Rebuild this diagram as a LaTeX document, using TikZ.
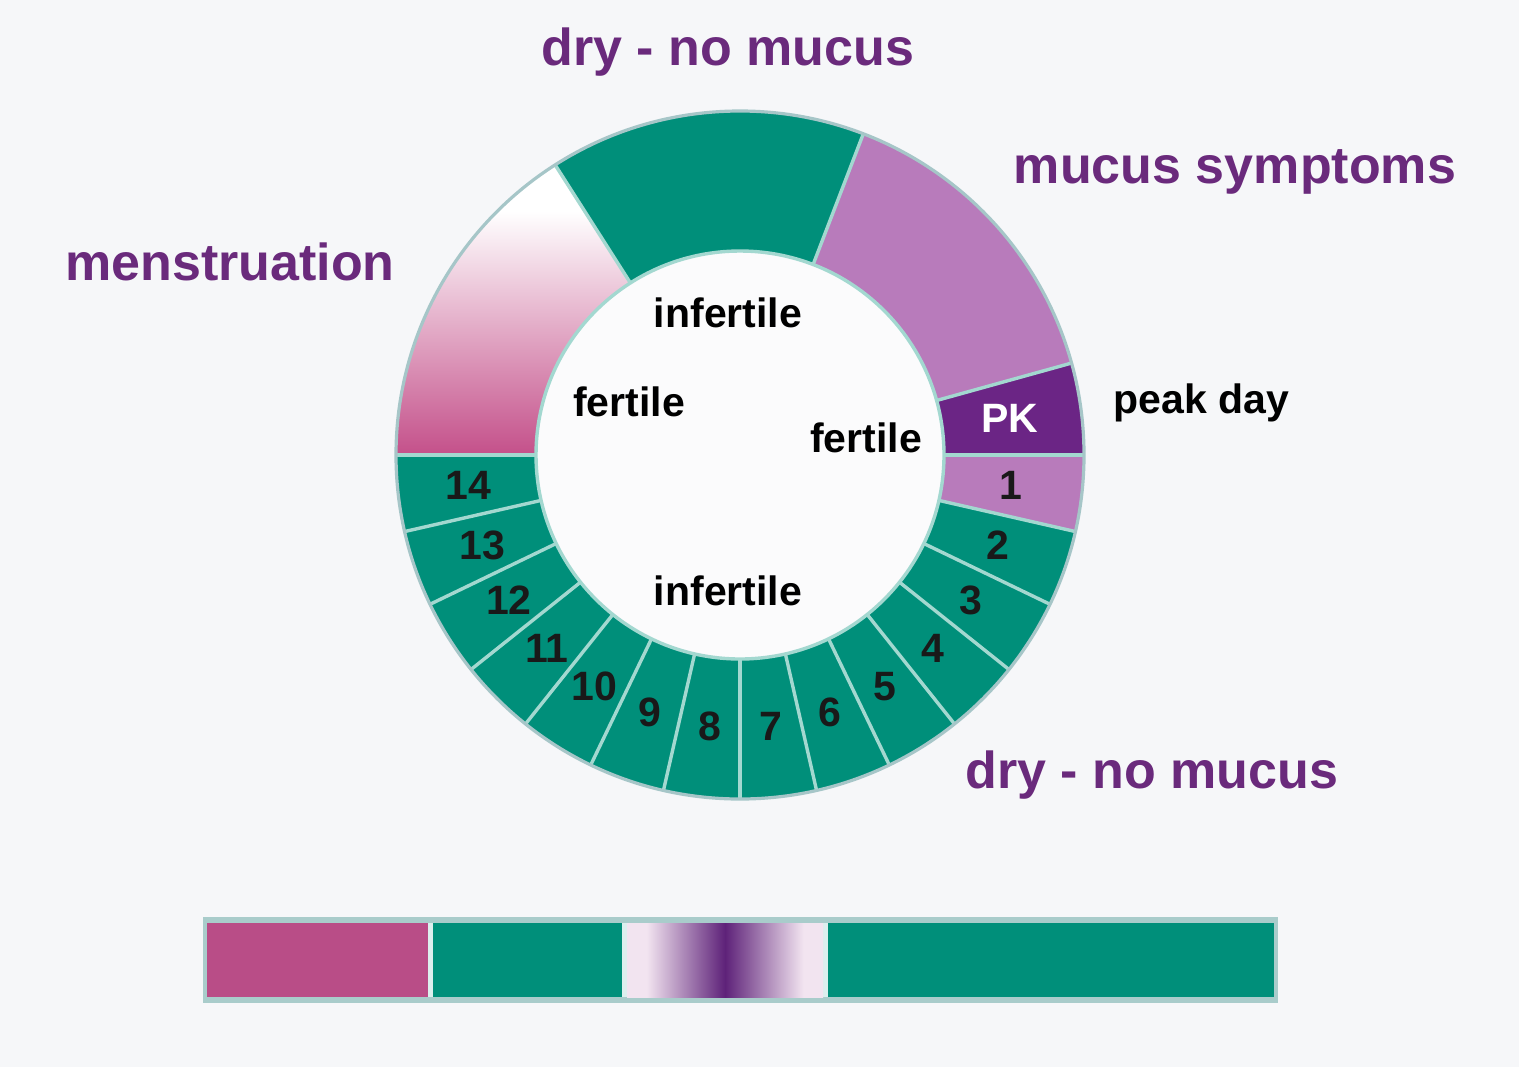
\documentclass[tikz,border=0pt]{standalone}
\usepackage{fontspec}
\setmainfont{Liberation Sans}
\definecolor{bgcol}{HTML}{F6F7F9}
\definecolor{innerw}{HTML}{FBFBFC}
\definecolor{ringteal}{HTML}{008F7A}
\definecolor{mucuscol}{HTML}{B87BBB}
\definecolor{pkdark}{HTML}{6B2585}
\definecolor{menpink}{HTML}{C4508A}
\definecolor{barpink}{HTML}{B94D87}
\definecolor{titlepurple}{HTML}{6A2A7C}
\definecolor{sepcol}{HTML}{A3D8D0}
\definecolor{rimcol}{HTML}{A6C6C8}
\definecolor{framecol}{HTML}{A9CCCB}
\definecolor{gapcol}{HTML}{DCEFEE}
\definecolor{pkpale}{HTML}{F2E4F0}
\definecolor{pkmid}{HTML}{5E2279}
\pgfdeclareverticalshading{menshade}{100bp}{color(0bp)=(menpink); color(25bp)=(menpink); color(67bp)=(white); color(100bp)=(white)}
\pgfdeclarehorizontalshading{peakshade}{100bp}{color(0bp)=(pkpale); color(25bp)=(pkpale); color(30bp)=(pkpale); color(50bp)=(pkmid); color(70bp)=(pkpale); color(75bp)=(pkpale); color(100bp)=(pkpale)}
\def\Rout{172pt}
\def\rin{102pt}
\def\rnum{136.5pt}
\newcommand\rseg[3]{\path[#3] (#1:\rin) -- (#1:\Rout) arc[start angle=#1,end angle=#2,radius=\Rout] -- (#2:\rin) arc[start angle=#2,end angle=#1,radius=\rin] -- cycle;}
\tikzset{
  title/.style={font=\bfseries\fontsize{26}{30}\selectfont, text=titlepurple, inner sep=0pt},
  lab/.style={font=\bfseries\fontsize{20.5}{24}\selectfont, text=black, inner sep=0pt},
  num/.style={font=\bfseries\fontsize{20.5}{24}\selectfont, text=black!90, inner sep=0pt},
  sepline/.style={draw=sepcol, line width=1.7pt},
  rimline/.style={draw=rimcol, line width=1.6pt},
}
\begin{document}
\begin{tikzpicture}[x=0.5pt,y=0.5pt]
\fill[bgcol] (0,0) rectangle (1519,-1067);
\useasboundingbox (0,0) rectangle (1519,-1067);
\begin{scope}[shift={(740,-455)}]
  \fill[innerw] (0,0) circle[radius=\rin];
  \rseg{-180}{-12.857}{fill=ringteal}
  \rseg{-12.857}{0}{fill=mucuscol}
  \rseg{0}{15.5}{fill=pkdark}
  \rseg{15.5}{69}{fill=mucuscol}
  \rseg{69}{122.5}{fill=ringteal}
  \rseg{122.5}{180}{shading=menshade}
  \foreach \a in {0,15.5,69,122.5,180}
    \draw[sepline] (\a:\rin) -- (\a:\Rout);
  \foreach \k in {1,...,13}
    \draw[sepline] ({-\k*180/14}:\rin) -- ({-\k*180/14}:\Rout);
  \draw[rimline] (0,0) circle[radius=\Rout];
  \draw[sepline] (0,0) circle[radius=\rin];
  \foreach \k in {1,...,14}
    \node[num] (n\k) at ({-(\k-0.5)*180/14}:\rnum) {\k};
\end{scope}
\node[title] (drytop) at (728,-52) {dry - no mucus};
\node[title] (mucus) at (1235,-172) {mucus symptoms};
\node[title] (mens) at (230,-262) {menstruation};
\node[title] (drybot) at (1152,-775) {dry - no mucus};
\node[lab] (inftop) at (728,-313) {infertile};
\node[lab] (infbot) at (728,-591) {infertile};
\node[lab] (fertl) at (629,-402) {fertile};
\node[lab] (fertr) at (866,-438) {fertile};
\node[lab, text=white] (pk) at (1010,-418) {PK};
\node[lab, anchor=west] (peak) at (1113,-403) {peak day};
% bottom bar
\fill[framecol] (203,-917) rectangle (1278,-1003);
\fill[gapcol] (207,-923) rectangle (1274,-997);
\fill[barpink] (207,-923) rectangle (428,-997);
\fill[ringteal] (433,-923) rectangle (622,-997);
\shade[shading=peakshade] (627,-923) rectangle (823,-997);
\fill[ringteal] (828,-923) rectangle (1274,-997);
\end{tikzpicture}
\end{document}
